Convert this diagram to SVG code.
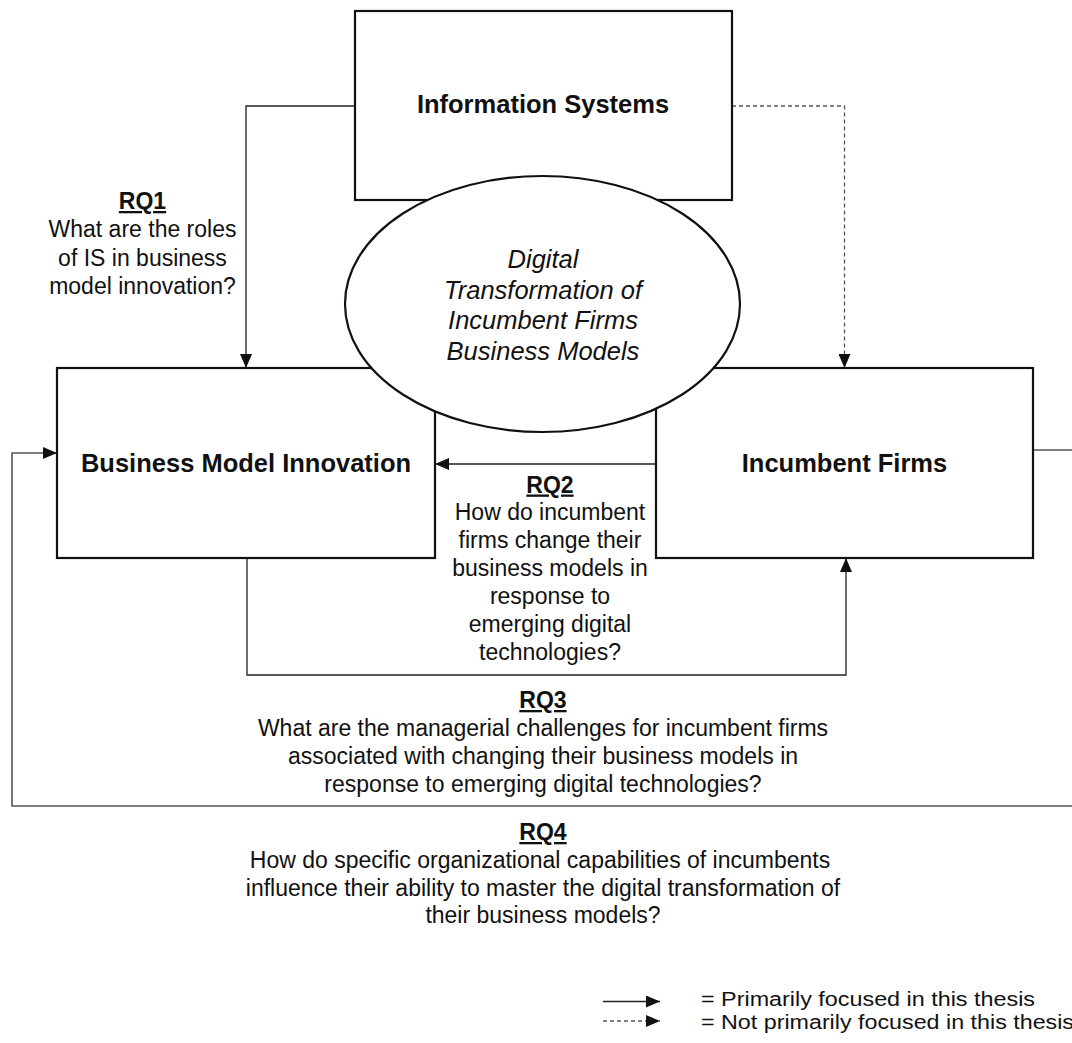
<svg xmlns="http://www.w3.org/2000/svg" width="1072" height="1043" viewBox="0 0 1072 1043">
<style>
  text { font-family: "Liberation Sans", Arial, sans-serif; fill: #111; }
  .box { fill: #fff; stroke: #111; stroke-width: 2.2; }
  .lbl { font-size: 25.5px; font-weight: bold; text-anchor: middle; }
  .ell { font-size: 25.5px; font-style: italic; text-anchor: middle; }
  .rq { font-size: 23px; text-anchor: middle; }
  .rqh { font-weight: bold; text-decoration: underline; }
  .con { fill: none; stroke: #222; stroke-width: 1.3; }
  .dash { stroke: #555; stroke-dasharray: 4 3; }
  .loop { fill: none; stroke: #555; stroke-width: 1.6; }
  .leg { font-size: 19.5px; }
</style>
<defs>
  <marker id="ah" markerUnits="userSpaceOnUse" markerWidth="14" markerHeight="12" refX="14" refY="6" orient="auto">
    <path d="M0,0 L14,6 L0,12 z" fill="#111"/>
  </marker>
</defs>
<rect width="1072" height="1043" fill="#fff"/>

<g id="connectors">
  <polyline class="con" points="355,106 246,106 246,368" marker-end="url(#ah)"/>
  <polyline class="con dash" points="732,106 844.5,106 844.5,368" marker-end="url(#ah)"/>
  <polyline class="con" points="656,464 435,464" marker-end="url(#ah)"/>
  <polyline class="con" points="247,558 247,675 846,675 846,558" marker-end="url(#ah)"/>
  <polyline class="loop" points="1033,450 1085,450 1085,806 12,806 12,453 57,453" marker-end="url(#ah)"/>
</g>

<g id="node-is">
  <rect class="box" x="355" y="11" width="377" height="189"/>
  <text class="lbl" x="543" y="113">Information Systems</text>
</g>

<g id="node-bmi">
  <rect class="box" x="57" y="368" width="378" height="190"/>
  <text class="lbl" x="246" y="472">Business Model Innovation</text>
</g>

<g id="node-if">
  <rect class="box" x="656" y="368" width="377" height="190"/>
  <text class="lbl" x="844.5" y="472">Incumbent Firms</text>
</g>

<g id="node-dt">
  <ellipse cx="542.5" cy="304" rx="197.5" ry="128" fill="#fff" stroke="#111" stroke-width="2.2"/>
  <text class="ell" x="543" y="268">Digital</text>
  <text class="ell" x="543" y="298.5">Transformation of</text>
  <text class="ell" x="543" y="329">Incumbent Firms</text>
  <text class="ell" x="543" y="359.5">Business Models</text>
</g>

<g id="rq1">
  <text class="rq rqh" x="142.5" y="209">RQ1</text>
  <text class="rq" x="142.5" y="237">What are the roles</text>
  <text class="rq" x="142.5" y="265.5">of IS in business</text>
  <text class="rq" x="142.5" y="294">model innovation?</text>
</g>

<g id="rq2">
  <text class="rq rqh" x="550" y="492.5">RQ2</text>
  <text class="rq" x="550" y="520">How do incumbent</text>
  <text class="rq" x="550" y="548">firms change their</text>
  <text class="rq" x="550" y="576">business models in</text>
  <text class="rq" x="550" y="604">response to</text>
  <text class="rq" x="550" y="632">emerging digital</text>
  <text class="rq" x="550" y="660">technologies?</text>
</g>

<g id="rq3">
  <text class="rq rqh" x="543" y="708">RQ3</text>
  <text class="rq" x="543" y="736">What are the managerial challenges for incumbent firms</text>
  <text class="rq" x="543" y="764">associated with changing their business models in</text>
  <text class="rq" x="543" y="792">response to emerging digital technologies?</text>
</g>

<g id="rq4">
  <text class="rq rqh" x="543" y="840">RQ4</text>
  <text class="rq" x="540" y="868">How do specific organizational capabilities of incumbents</text>
  <text class="rq" x="543" y="895.5">influence their ability to master the digital transformation of</text>
  <text class="rq" x="543" y="923">their business models?</text>
</g>

<g id="legend">
  <line class="con" x1="603" y1="1001.5" x2="660" y2="1001.5" marker-end="url(#ah)"/>
  <line class="con dash" x1="603" y1="1021" x2="660" y2="1021" marker-end="url(#ah)"/>
  <text class="leg" x="701" y="1006" textLength="334" lengthAdjust="spacingAndGlyphs">= Primarily focused in this thesis</text>
  <text class="leg" x="701" y="1029" textLength="373" lengthAdjust="spacingAndGlyphs">= Not primarily focused in this thesis</text>
</g>
</svg>
